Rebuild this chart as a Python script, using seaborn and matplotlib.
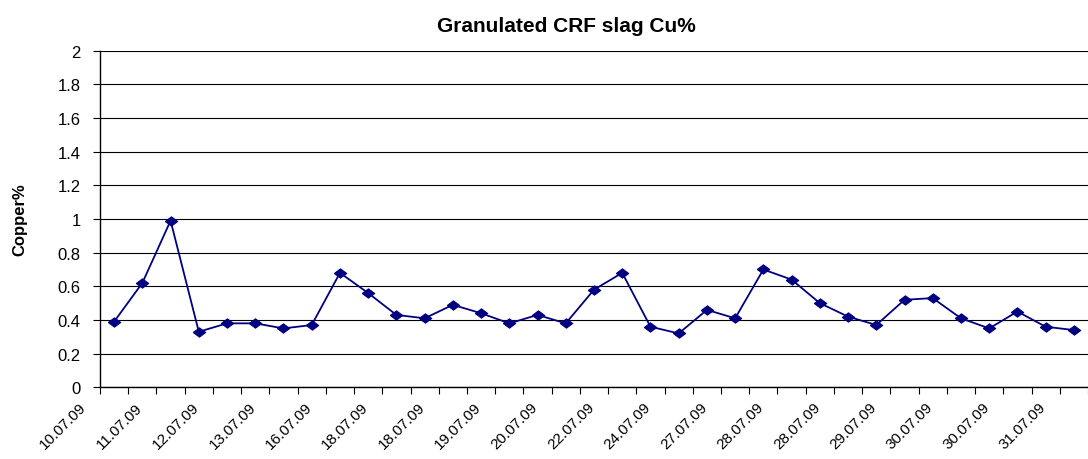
import numpy as np
import pandas as pd
import seaborn as sns
import matplotlib
matplotlib.use("Agg")
import matplotlib.pyplot as plt
from matplotlib.transforms import ScaledTranslation

# values (one per sample, labels on every other one)
cu_values = [0.39, 0.62, 0.99, 0.33, 0.38, 0.38, 0.35, 0.37, 0.68, 0.56,
             0.43, 0.41, 0.49, 0.44, 0.38, 0.43, 0.38, 0.58, 0.68, 0.36,
             0.32, 0.46, 0.41, 0.70, 0.64, 0.50, 0.42, 0.37, 0.52, 0.53,
             0.41, 0.35, 0.45, 0.36, 0.34]
tick_labels = ["10.07.09", "11.07.09", "12.07.09", "13.07.09", "16.07.09",
               "18.07.09", "18.07.09", "19.07.09", "20.07.09", "22.07.09",
               "24.07.09", "27.07.09", "28.07.09", "28.07.09", "29.07.09",
               "30.07.09", "30.07.09", "31.07.09"]
y_ticks = [0, 0.2, 0.4, 0.6, 0.8, 1, 1.2, 1.4, 1.6, 1.8, 2]

df = pd.DataFrame({"sample": np.arange(len(cu_values)), "cu": cu_values})

sns.set_style("white")
plt.rcParams['font.family'] = ['Liberation Sans', 'DejaVu Sans']
plt.rcParams['text.color'] = 'black'
plt.rcParams['axes.labelcolor'] = 'black'
plt.rcParams['xtick.color'] = 'black'
plt.rcParams['ytick.color'] = 'black'

fig = plt.figure(figsize=(10.88, 4.6), dpi=100)
W, H = 1088, 460
ax = fig.add_axes([100 / W, (H - 388.3) / H, (W - 100) / W, (388.3 - 51.7) / H])

# excel style wide diamond
diamond = [(-1, 0), (0, 0.75), (1, 0), (0, -0.75), (-1, 0)]
sns.lineplot(data=df, x="sample", y="cu", ax=ax, color="#000080", linewidth=1.3,
             marker=diamond, markersize=9, markeredgecolor="#000080",
             markerfacecolor="#000080", clip_on=False, zorder=3)

ax.set_xlim(-0.5, 34.02)
ax.set_ylim(0, 2)
ax.set_yticks(y_ticks)
ax.set_yticklabels([f"{v:g}" for v in y_ticks], fontsize=12)
ax.yaxis.grid(True, color="black", linewidth=0.8)
ax.set_axisbelow(True)

ax.set_xticks(np.arange(0, len(cu_values), 2))
ax.set_xticklabels(tick_labels, rotation=45, ha="right", va="top",
                   rotation_mode="anchor", fontsize=11)
ax.set_xticks(np.arange(-0.5, 34.6, 1), minor=True)
ax.tick_params(axis="x", which="major", length=0, pad=9)
ax.tick_params(axis="x", which="minor", length=5, width=0.8, color="black", direction="out", bottom=True)
ax.tick_params(axis="y", which="major", length=5, width=0.8, color="black", direction="out", left=True, pad=9)

shift = ScaledTranslation(-0.35, 0, fig.dpi_scale_trans)
for lbl in ax.get_xticklabels():
    lbl.set_transform(lbl.get_transform() + shift)

for s in ["top", "right"]:
    ax.spines[s].set_visible(False)
for s in ["left", "bottom"]:
    ax.spines[s].set_color("black")
    ax.spines[s].set_linewidth(1.0)

ax.set_xlabel("")
ax.set_ylabel("Copper%", fontsize=12, fontweight="bold")
ax.yaxis.set_label_coords(-0.074, 0.5)

fig.text(566 / W, 1 - 26 / H, "Granulated CRF slag Cu%", ha="center", va="center",
         fontsize=15, fontweight="bold")

fig.savefig("out.png", dpi=100)
